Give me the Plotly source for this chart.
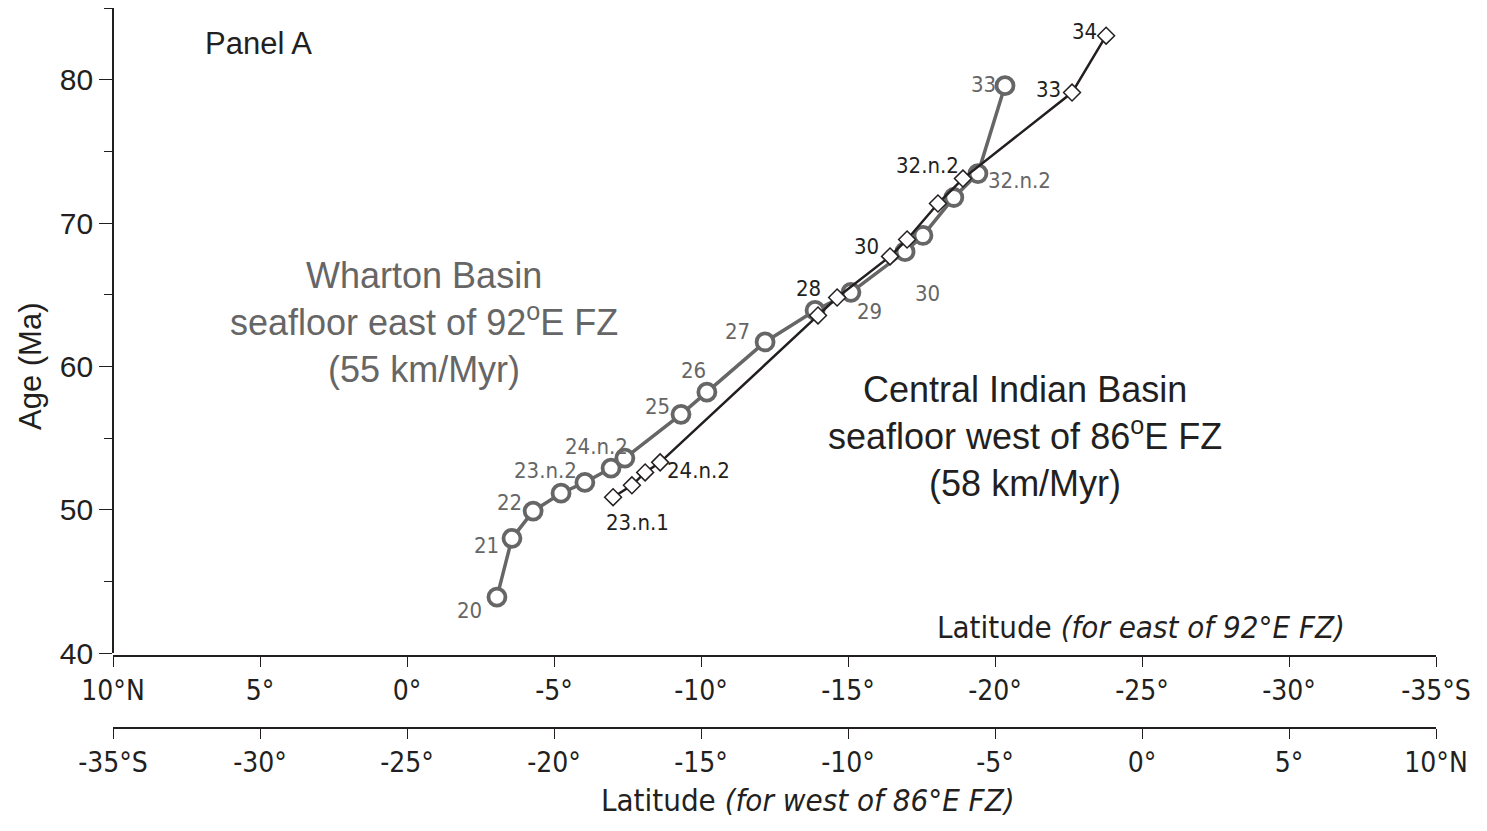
import plotly.graph_objects as go

# ---------------- data ----------------
# Wharton Basin (east of 92E FZ) - plotted against the top latitude axis
wharton_lat = [-3.06, -3.57, -4.29, -5.24, -6.05, -6.94, -7.41, -9.32, -10.2, -12.18,
               -13.88, -15.1, -16.94, -17.55, -18.6, -19.42, -20.34]
wharton_age = [43.9, 48.0, 49.9, 51.15, 51.9, 52.9, 53.6, 56.65, 58.2, 61.7,
               63.9, 65.16, 68.0, 69.13, 71.78, 73.45, 79.58]
wharton_lbl = ["20", "21", "22", "", "23.n.2", "", "24.n.2", "25", "26", "27",
               "", "29", "30", "", "", "32.n.2", "33"]

# Central Indian Basin (west of 86E FZ) - plotted against the bottom latitude axis
cib_lat = [-17.99, -17.35, -16.9, -16.39, -11.02, -10.37, -8.57, -7.99, -6.94, -6.09, -2.38, -1.22]
cib_age = [50.87, 51.7, 52.6, 53.3, 63.55, 64.8, 67.67, 68.85, 71.36, 73.1, 79.1, 83.07]
cib_lbl = ["23.n.1", "", "", "24.n.2", "28", "", "30", "", "", "32.n.2", "33", "34"]

east_ticks = [10, 5, 0, -5, -10, -15, -20, -25, -30, -35]
east_text = ["10°N", "5°", "0°", "-5°", "-10°", "-15°", "-20°", "-25°", "-30°", "-35°S"]
west_ticks = [-35, -30, -25, -20, -15, -10, -5, 0, 5, 10]
west_text = ["-35°S", "-30°", "-25°", "-20°", "-15°", "-10°", "-5°", "0°", "5°", "10°N"]
age_ticks = [40, 50, 60, 70, 80]

# label offsets in pixels (dx right, dy up)
wharton_off = {"20": (-27, -13), "21": (-25, -7), "22": (-24, 9), "23.n.2": (-39, 12),
               "24.n.2": (-28, 12), "25": (-24, 8), "26": (-13, 22), "27": (-28, 10),
               "29": (19, -19), "30": (22, -42), "32.n.2": (42, -7), "33": (-22, 1)}
cib_off = {"23.n.1": (24, -25), "24.n.2": (38, -8), "28": (-10, 27), "30": (-24, 10),
           "32.n.2": (-35, 13), "33": (-24, 3), "34": (-22, 4)}

GRAY = "#666666"
BLACK = "#231f20"
FONT = "Liberation Sans, Arial, sans-serif"
NARROW = "Liberation Sans Narrow, Arial Narrow, DejaVu Sans Condensed, Liberation Sans, sans-serif"

fig = go.Figure()
fig.add_trace(go.Scatter(
    x=wharton_lat, y=wharton_age, xaxis="x", yaxis="y", mode="lines+markers",
    line=dict(color=GRAY, width=3.5),
    marker=dict(symbol="circle", size=17, color="white", line=dict(color=GRAY, width=3.8)),
    showlegend=False, hoverinfo="skip"))
fig.add_trace(go.Scatter(
    x=cib_lat, y=cib_age, xaxis="x2", yaxis="y", mode="lines+markers",
    line=dict(color=BLACK, width=2.5),
    marker=dict(symbol="diamond", size=13, color="white", line=dict(color=BLACK, width=1.5)),
    showlegend=False, hoverinfo="skip"))

ann = []
for x, y, t in zip(wharton_lat, wharton_age, wharton_lbl):
    if t:
        dx, dy = wharton_off[t]
        ann.append(dict(x=x, y=y, xref="x", yref="y", text=t, showarrow=False,
                        xanchor="center", yanchor="middle",
                        xshift=dx, yshift=dy, font=dict(family=NARROW, size=22, color=GRAY)))
for x, y, t in zip(cib_lat, cib_age, cib_lbl):
    if t:
        dx, dy = cib_off[t]
        ann.append(dict(x=x, y=y, xref="x2", yref="y", text=t, showarrow=False,
                        xanchor="center", yanchor="middle",
                        xshift=dx, yshift=dy, font=dict(family=NARROW, size=22, color=BLACK)))

# page has an 8px body margin: figure is drawn at (8, 8) in the window
OFF = 8
W, H = 1487 - OFF, 831 - OFF
L, R, T, B = 113 - OFF, 51, 0, 103
PW, PH = W - L - R, H - T - B


def px(xpix):
    return (xpix - OFF - L) / PW


def py(ypix):
    return (H - B - (ypix - OFF)) / PH


def txt(x, y, text, size, color=BLACK, family=FONT, **kw):
    return dict(x=px(x), y=py(y), xref="paper", yref="paper", text=text, showarrow=False,
                xanchor="center", yanchor="middle", font=dict(family=family, size=size, color=color), **kw)


ann += [
    txt(258, 43, "Panel A", 31),
    txt(424, 322, "Wharton Basin<br>seafloor east of 92<sup>o</sup>E FZ<br>(55 km/Myr)", 36,
        color=GRAY, align="center"),
    txt(1025, 436, "Central Indian Basin<br>seafloor west of 86<sup>o</sup>E FZ<br>(58 km/Myr)", 36,
        align="center"),
    txt(1141, 627, "Latitude <i>(for east of 92°E FZ)</i>", 31, family=NARROW),
    txt(808, 800, "Latitude <i>(for west of 86°E FZ)</i>", 31, family=NARROW),
    txt(30, 366, "Age (Ma)", 31, textangle=-90),
]

axis_common = dict(ticks="outside", ticklen=10, tickwidth=1.3, tickcolor=BLACK,
                   showline=True, linecolor=BLACK, linewidth=1.6, showgrid=False,
                   zeroline=False, tickfont=dict(family=NARROW, size=28, color=BLACK))

fig.update_layout(
    width=W, height=H,
    margin=dict(l=L, r=R, t=T, b=B, autoexpand=False),
    paper_bgcolor="white", plot_bgcolor="white",
    annotations=ann,
    xaxis=dict(range=[10, -35], domain=[0, 1], anchor="free", position=py(656),
               tickvals=east_ticks, ticktext=east_text, **axis_common),
    xaxis2=dict(range=[-35, 10], domain=[0, 1], anchor="free", position=0, overlaying="x",
                side="bottom", tickvals=west_ticks, ticktext=west_text, **axis_common),
    yaxis=dict(range=[40, 85], domain=[py(653), 1], anchor="free", position=0,
               tickvals=age_ticks, ticks="outside", ticklen=13, tickwidth=1.3,
               tickcolor=BLACK, showline=True, linecolor=BLACK, linewidth=1.6,
               showgrid=False, zeroline=False,
               minor=dict(tick0=40, dtick=5, ticks="outside", ticklen=8, tickwidth=1.3,
                          tickcolor=BLACK, showgrid=False),
               tickfont=dict(family=FONT, size=30, color=BLACK)),
)

fig.write_html("out.html")
